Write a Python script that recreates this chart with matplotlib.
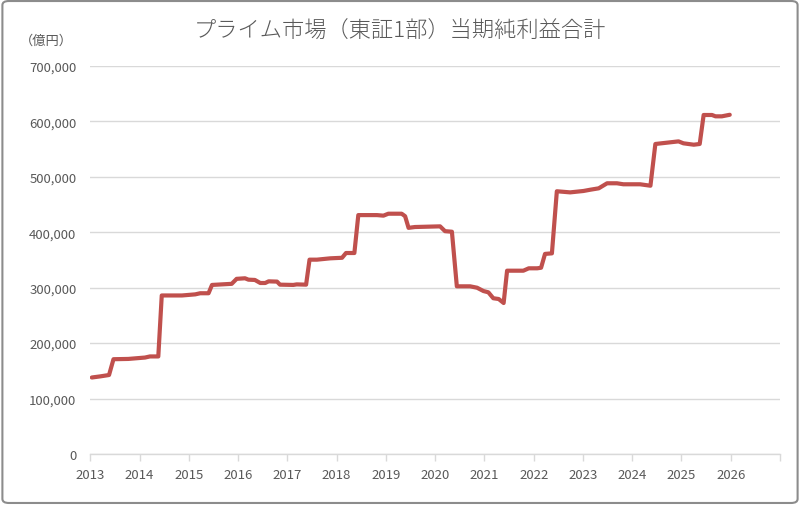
import matplotlib.pyplot as plt
from matplotlib.patches import FancyBboxPatch
from matplotlib.ticker import FuncFormatter

plt.rcParams['font.family'] = ['Noto Sans CJK JP', 'DejaVu Sans']

title = 'プライム市場（東証1部）当期純利益合計'
unit_label = '（億円）'

# time (decimal year) and net income total (100 million yen)
t = [2013.03, 2013.20, 2013.38, 2013.47, 2013.77, 2014.11, 2014.21, 2014.38,
     2014.45, 2014.86, 2015.13, 2015.23, 2015.40, 2015.47, 2015.87, 2015.97,
     2016.14, 2016.21, 2016.34, 2016.45, 2016.55, 2016.62, 2016.79, 2016.85,
     2017.12, 2017.19, 2017.38, 2017.45, 2017.60, 2017.87, 2018.11, 2018.19,
     2018.36, 2018.44, 2018.82, 2018.95, 2019.05, 2019.32, 2019.39, 2019.46,
     2019.59, 2020.10, 2020.20, 2020.34, 2020.44, 2020.71, 2020.85, 2020.98,
     2021.08, 2021.18, 2021.29, 2021.39, 2021.46, 2021.79, 2021.90, 2022.07,
     2022.15, 2022.23, 2022.37, 2022.47, 2022.74, 2023.01, 2023.15, 2023.32,
     2023.49, 2023.69, 2023.82, 2024.16, 2024.37, 2024.47, 2024.64, 2024.94,
     2025.04, 2025.25, 2025.37, 2025.45, 2025.62, 2025.69, 2025.82, 2025.98]
net_income = [138000, 140000, 142500, 171000, 171500, 174000, 176000, 176000,
              286000, 286000, 288000, 290000, 290000, 305000, 307000, 316000,
              317000, 314500, 314000, 308500, 308500, 311500, 311000, 305500,
              305000, 306000, 305500, 350600, 350600, 353000, 354000, 362600,
              362600, 431000, 431000, 430000, 433500, 433500, 429000, 408000,
              409500, 410700, 402000, 401000, 302500, 302500, 300000, 294000,
              291700, 281000, 279600, 272400, 330700, 330700, 335000, 335000,
              336000, 361000, 362000, 474000, 472000, 474500, 476800, 479300,
              488400, 488400, 486600, 486600, 484000, 559300, 561000, 564000,
              560500, 558000, 559300, 611600, 611600, 609200, 609200, 612000]

years = list(range(2013, 2028))
year_labels = [str(y) for y in years[:-1]] + ['']

text_color = '#595959'
grid_color = '#d9d9d9'

fig = plt.figure(figsize=(8, 5.06), dpi=100)
ax = fig.add_axes([0.1129, 0.1008, 0.8621, 0.7668])

ax.plot(t, net_income, color='#c0504d', lw=3, solid_joinstyle='round', solid_capstyle='round')

ax.set_xlim(2013, 2027)
ax.set_ylim(0, 700000)
ax.set_yticks(range(0, 700001, 100000))
ax.yaxis.set_major_formatter(FuncFormatter(lambda v, p: f'{int(v):,}'))
ax.set_xticks(years)
ax.set_xticklabels(year_labels)

ax.grid(axis='y', color=grid_color, lw=1)
ax.set_axisbelow(True)
for s in ['top', 'right', 'left']:
    ax.spines[s].set_visible(False)
ax.spines['bottom'].set_color(grid_color)
ax.spines['bottom'].set_linewidth(1)
ax.tick_params(axis='y', length=0, pad=10, labelsize=9.5, labelcolor=text_color)
ax.tick_params(axis='x', length=5, color=grid_color, width=1, pad=5,
               labelsize=9.5, labelcolor=text_color)

fig.text(0.5, 0.938, title, ha='center', va='center', fontsize=16,
         color=text_color, fontweight='light')
fig.text(0.058, 0.918, unit_label, ha='center', va='center', fontsize=9.5,
         color=text_color)

border = FancyBboxPatch((0.003, 0.004), 0.994, 0.992, boxstyle='round,pad=0,rounding_size=0.008',
                        transform=fig.transFigure, facecolor='none', edgecolor='#8c8c8c', lw=1.5)
fig.patches.append(border)

fig.savefig('out.png', dpi=100)
